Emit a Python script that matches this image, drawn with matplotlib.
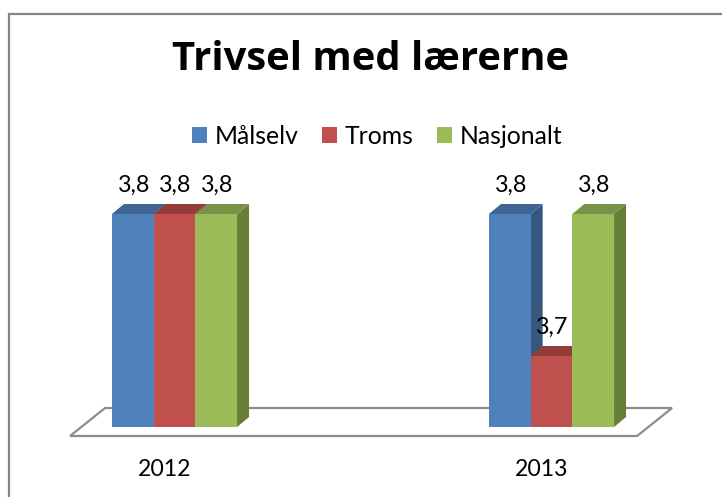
import matplotlib
matplotlib.use("Agg")
import matplotlib.pyplot as plt
from matplotlib.patches import Polygon, Patch, Rectangle
from matplotlib.transforms import offset_copy, IdentityTransform

# ---- data ----
title = "Trivsel med lærerne"
years = ["2012", "2013"]
series = ["Målselv", "Troms", "Nasjonalt"]
malselv = [3.8, 3.8]
troms = [3.8, 3.7]
nasjonalt = [3.8, 3.8]
axis_min = 3.65


def fmt(v):
    return f"{v:.1f}".replace(".", ",")


# ---- style ----
front_cols = ["#4F81BD", "#C0504D", "#9BBB59"]
top_cols = ["#3E6594", "#943C3A", "#799346"]
side_cols = ["#36587F", "#823432", "#677E37"]
font = "Lato"

W, H = 722, 497
fig = plt.figure(figsize=(W / 100, H / 100), dpi=100)
ax = fig.add_axes([0, 0, 1, 1])
ax.axis("off")

px_x = 377.0      # pixels per category
px_y = 1420.0     # pixels per value unit
x0_px = 174.5
floor_px = 70.0   # from bottom
ax.set_xlim(-x0_px / px_x, (W - x0_px) / px_x)
ax.set_ylim(axis_min - floor_px / px_y, axis_min + (H - floor_px) / px_y)

dx, dy = 12, 10   # depth in pixels
bw = 41.7 / px_x
ident = IdentityTransform()


def off(x, y):
    return offset_copy(ax.transData, fig=fig, x=x, y=y, units="dots")


# floor
fx0, fx1 = -0.277, 1.227
p_front_l = ax.transData.transform((fx0, axis_min)) + [0, -9]
p_front_r = ax.transData.transform((fx1, axis_min)) + [0, -9]
p_back_r = p_front_r + [35, 28]
p_back_l = p_front_l + [35, 28]
ax.add_patch(Polygon([p_front_l, p_front_r, p_back_r, p_back_l], closed=True,
                     transform=ident, facecolor="white", edgecolor="#8C8C8C",
                     linewidth=1.6, zorder=1))

all_vals = [malselv, troms, nasjonalt]
z = 2
for gi, yr in enumerate(years):
    for si in range(3):
        v = all_vals[si][gi]
        xl = gi + (si - 1.5) * bw
        xr = xl + bw
        pts = ax.transData.transform([(xr, axis_min), (xr, v)])
        ax.add_patch(Polygon([pts[0], pts[1], pts[1] + [dx, dy], pts[0] + [dx, dy]],
                             closed=True, transform=ident, facecolor=side_cols[si],
                             edgecolor="none", zorder=z))
        tp = ax.transData.transform([(xl, v), (xr, v)])
        ax.add_patch(Polygon([tp[0], tp[1], tp[1] + [dx, dy], tp[0] + [dx, dy]],
                             closed=True, transform=ident, facecolor=top_cols[si],
                             edgecolor="none", zorder=z))
        ax.bar(xl, v - axis_min, width=bw, bottom=axis_min, align="edge",
               color=front_cols[si], zorder=z, linewidth=0)
        ax.text(xl + bw / 2, v, fmt(v), transform=off(1, 18),
                ha="center", va="bottom", fontsize=16.8, family=font, zorder=20)
        z += 1
    ax.text(gi, axis_min, yr, transform=off(-10, -43), ha="center", va="center",
            fontsize=16.6, family=font)

# title
fig.text(371 / W, 1 - 59 / H, title, ha="center", va="center", fontsize=28.8,
         fontweight="bold", family="Open Sans")

# legend
handles = [Patch(facecolor=c, edgecolor="none", label=s) for c, s in zip(front_cols, series)]
fig.legend(handles=handles, loc="center", bbox_to_anchor=(377 / W, 1 - 136 / H),
           ncol=3, frameon=False, handlelength=0.62, handleheight=0.62,
           handletextpad=0.3, columnspacing=0.95, prop={"family": font, "size": 17.8})

# chart border
fig.patches.append(Rectangle((9, -10), W, H - 14 + 10, transform=None, fill=False,
                             edgecolor="#868686", linewidth=1.6, zorder=0))

fig.savefig("out.png", dpi=100)
